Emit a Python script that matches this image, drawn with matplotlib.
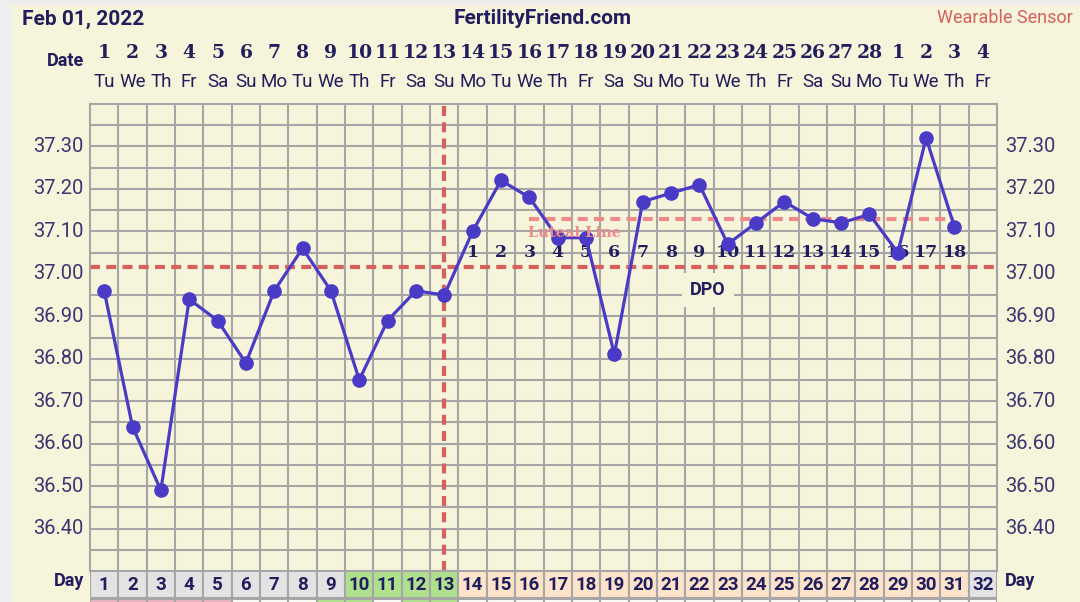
import numpy as np
import matplotlib
matplotlib.use("Agg")
import matplotlib.pyplot as plt
from matplotlib.patches import Rectangle
from matplotlib.transforms import blended_transform_factory

plt.rcParams["font.family"] = ["Roboto", "DejaVu Sans"]

# --- data -------------------------------------------------------------
cycle_days = list(range(1, 33))
date_labels = ["1", "2", "3", "4", "5", "6", "7", "8", "9", "10", "11", "12",
               "13", "14", "15", "16", "17", "18", "19", "20", "21", "22", "23",
               "24", "25", "26", "27", "28", "1", "2", "3", "4"]
weekdays = ["Tu", "We", "Th", "Fr", "Sa", "Su", "Mo", "Tu", "We", "Th", "Fr",
            "Sa", "Su", "Mo", "Tu", "We", "Th", "Fr", "Sa", "Su", "Mo", "Tu",
            "We", "Th", "Fr", "Sa", "Su", "Mo", "Tu", "We", "Th", "Fr"]

temp_days = list(range(1, 32))
temps = [36.96, 36.64, 36.49, 36.94, 36.89, 36.79, 36.96, 37.06, 36.96, 36.75,
         36.89, 36.96, 36.95, 37.10, 37.22, 37.18, 37.085, 37.085, 36.81, 37.17,
         37.19, 37.21, 37.07, 37.12, 37.17, 37.13, 37.12, 37.14, 37.05, 37.32,
         37.11]

dpo_days = list(range(14, 32))
dpo_labels = [str(i) for i in range(1, 19)]

ovulation_day = 13
coverline = 37.015
luteal_level = 37.13
luteal_span = (16, 31)

# day-row phase: n = none, f = fertile, l = luteal
day_row_phase = ["n", "n", "n", "n", "n", "n", "n", "n", "n", "f", "f", "f",
                 "f", "l", "l", "l", "l", "l", "l", "l", "l", "l", "l", "l",
                 "l", "l", "l", "l", "l", "l", "l", "n"]
# second strip: p = period, w = blank, g = green
strip_phase = ["p", "p", "p", "p", "p", "w", "w", "w", "g", "g", "w", "g",
               "g", "w", "w", "w", "w", "w", "w", "w", "w", "w", "w", "w",
               "w", "w", "w", "w", "w", "w", "w", "w"]

y_ticks = [36.40, 36.50, 36.60, 36.70, 36.80, 36.90, 37.00, 37.10, 37.20, 37.30]

# --- style ------------------------------------------------------------
CREAM = "#f7f4dc"
GRID = "#a6a6a6"
NAVY = "#221d5c"
LINE = "#4a3bc6"
RED = "#d6605e"
PINK_LINE = "#ee8a88"
phase_colors = {"n": "#e3e3e3", "f": "#aee08e", "l": "#fce3c9",
                "p": "#e8b4c2", "w": "#fafaf4", "g": "#aee08e"}

W, H = 1080, 602
fig = plt.figure(figsize=(W / 100, H / 100), dpi=100, facecolor=CREAM)
# grey margin strips (left and top)
fig.patches.append(Rectangle((0, 0), 12 / W, 1, transform=fig.transFigure,
                             facecolor="#eeeeee", edgecolor="none"))
fig.patches.append(Rectangle((0, 1 - 5 / H), 1, 5 / H, transform=fig.transFigure,
                             facecolor="#eeeeee", edgecolor="none"))


def fx(px):
    return px / W


def fy(py):
    return 1 - py / H


left, right, top, bottom = 90, 997, 104, 571
ax = fig.add_axes([fx(left), fy(bottom), fx(right - left), (bottom - top) / H])
ax.set_facecolor(CREAM)
ax.set_xlim(0.5, 32.5)
ax.set_ylim(36.30, 37.40)
for s in ax.spines.values():
    s.set_color(GRID)
    s.set_linewidth(1.5)
ax.set_xticks([])
ax.set_yticks([])

# grid
for x in np.arange(1.5, 32.5, 1.0):
    ax.axvline(x, color=GRID, lw=1.5, zorder=1)
for y in np.arange(36.35, 37.40, 0.05):
    if abs(y - 37.00) < 1e-6:
        continue
    ax.axhline(y, color=GRID, lw=1.5, zorder=1)

# cover line, ovulation, luteal line
ax.axhline(coverline, color=RED, lw=3, dashes=(2.4, 1.5), zorder=2)
ax.axvline(ovulation_day, color=RED, lw=3, dashes=(2.4, 1.5), zorder=2)
ax.plot(luteal_span, [luteal_level, luteal_level], color=PINK_LINE, lw=3,
        dashes=(2.4, 1.5), zorder=2)

# temperature line
ax.plot(temp_days, temps, color=LINE, lw=2.3, marker="o", markersize=9.5, zorder=5)

ax.text(luteal_span[0] - 0.05, 37.095, "Luteal Line", color=PINK_LINE,
        family="DejaVu Serif", fontweight="bold", fontsize=10.5, va="center",
        ha="left", zorder=6)

# DPO labels
for d, lab in zip(dpo_days, dpo_labels):
    ax.text(d, 37.05, lab, ha="center", va="center", color=NAVY,
            family="DejaVu Serif", fontweight="bold", fontsize=12.5, zorder=4)
ax.text(22.3, 36.962, "DPO", ha="center", va="center", color=NAVY,
        fontweight="bold", fontsize=13, zorder=4,
        bbox=dict(facecolor=CREAM, edgecolor="none", pad=6))

# y tick labels on both sides
ax_tr = blended_transform_factory(fig.transFigure, ax.transData)
for v in y_ticks:
    fig.text(fx(84), v, f"{v:.2f}", ha="right", va="center", fontsize=14.5,
             color="#3a3570", transform=ax_tr)
    fig.text(fx(1005), v, f"{v:.2f}", ha="left", va="center", fontsize=14.5,
             color="#3a3570", transform=ax_tr)

# header
fig.text(fx(22), fy(19), "Feb 01, 2022", fontsize=15, fontweight="bold",
         color=NAVY, va="center", ha="left")
fig.text(fx(543), fy(19), "FertilityFriend.com", fontsize=15, fontweight="bold",
         color=NAVY, va="center", ha="center")
fig.text(fx(1073), fy(18), "Wearable Sensor", fontsize=13, color=RED,
         va="center", ha="right")
fig.text(fx(84), fy(61), "Date", fontsize=13, fontweight="bold", color=NAVY,
         va="center", ha="right")

hdr = blended_transform_factory(ax.transData, fig.transFigure)
for d, lab, wd in zip(cycle_days, date_labels, weekdays):
    fig.text(d, fy(53), lab, transform=hdr, ha="center", va="center",
             family="DejaVu Serif", fontweight="bold", fontsize=13.5, color=NAVY)
    fig.text(d, fy(82), wd, transform=hdr, ha="center", va="center",
             fontsize=13.5, color=NAVY)

# day rows
row_ax = fig.add_axes([fx(left), fy(625), fx(right - left), (625 - bottom) / H])
row_ax.set_xlim(0.5, 32.5)
row_ax.set_ylim(54, 0)
row_ax.axis("off")
for d, ph, sp in zip(cycle_days, day_row_phase, strip_phase):
    row_ax.add_patch(Rectangle((d - 0.5, 0), 1, 26.5, facecolor=phase_colors[ph],
                               edgecolor=GRID, lw=1.5))
    row_ax.add_patch(Rectangle((d - 0.5, 27.5), 1, 30, facecolor=phase_colors[sp],
                               edgecolor=GRID, lw=1.5))
    row_ax.text(d, 13.5, str(d), ha="center", va="center", fontsize=13.5,
                fontweight="bold", color=NAVY)
fig.text(fx(84), fy(581), "Day", fontsize=13, fontweight="bold", color=NAVY,
         va="center", ha="right")
fig.text(fx(1005), fy(581), "Day", fontsize=13, fontweight="bold", color=NAVY,
         va="center", ha="left")

fig.savefig("out.png", dpi=100, facecolor=fig.get_facecolor())
